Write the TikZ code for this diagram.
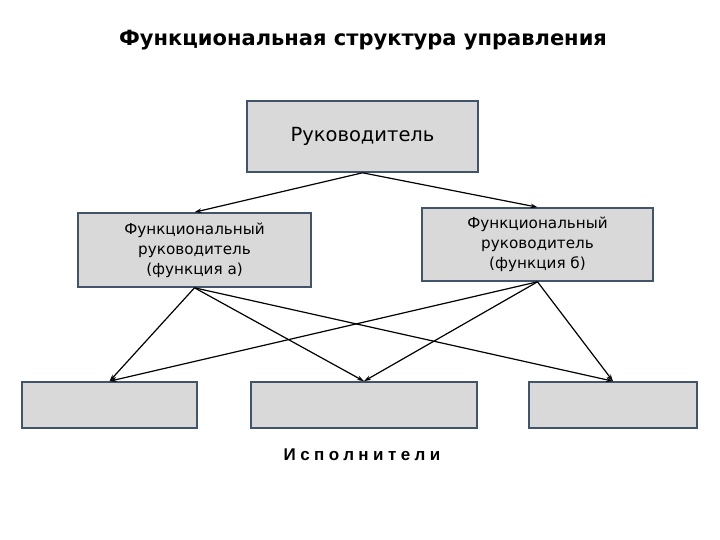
\documentclass[tikz,border=0pt]{standalone}
\usepackage{fontspec}
\setmainfont{DejaVu Sans}
\newfontfamily\spacedfont[LetterSpace=26]{Liberation Sans}
\usetikzlibrary{arrows.meta}
\definecolor{cbord}{HTML}{41546A}
\definecolor{cfill}{HTML}{D9D9D9}

\begin{document}
\begin{tikzpicture}[x=1pt,y=-1pt,>={Stealth[length=7pt,width=4.5pt]}]
    \tikzset{box/.style={draw=cbord,fill=cfill,line width=1.6pt,inner sep=0pt,align=center,font=\fontsize{15.2}{20}\selectfont},
             arr/.style={->,line width=1.2pt}}
    \useasboundingbox (0,0) rectangle (720,540);
    \node[font=\fontsize{21}{24}\selectfont\bfseries] (title) at (363,40) {Функциональная структура управления};
    \node[box,minimum width=231pt,minimum height=71pt,font=\fontsize{19.5}{22}\selectfont] (boss) at (362.5,136.5) {Руководитель};
    \node[box,minimum width=233pt,minimum height=74pt] (funa) at (194.5,250) {Функциональный\\руководитель\\(функция а)};
    \node[box,minimum width=231pt,minimum height=73pt] (funb) at (537.5,244.5) {Функциональный\\руководитель\\(функция б)};
    \node[box,minimum width=175pt,minimum height=46pt] (ex1) at (109.5,405) {};
    \node[box,minimum width=226pt,minimum height=46pt] (ex2) at (364,405) {};
    \node[box,minimum width=168pt,minimum height=46pt] (ex3) at (613,405) {};
    \node[font=\spacedfont\fontsize{17}{20}\selectfont\bfseries] (exec) at (362,455) {Исполнители};
    \draw[arr] (boss.south) -- (funa.north);
    \draw[arr] (boss.south) -- (funb.north);
    \foreach \e in {ex1,ex2,ex3} {
      \draw[arr] (funa.south) -- (\e.north);
      \draw[arr] (funb.south) -- (\e.north);
    }
  \end{tikzpicture}
\end{document}
